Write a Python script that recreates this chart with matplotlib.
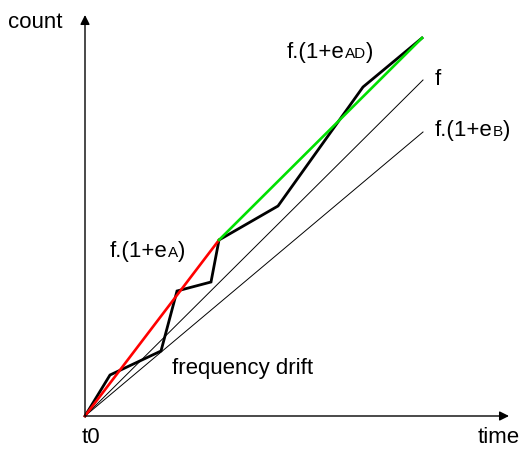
import matplotlib
matplotlib.use("Agg")
import matplotlib.pyplot as plt

# data in (time, count) units, origin at t0
measured_t = [0, 25, 76, 92, 126, 134, 193, 278, 337]
measured_c = [0, 41, 65, 125, 134, 176, 210, 329, 378]
fit_a_t = [0, 134]
fit_a_c = [0, 176]
fit_ad_t = [134, 337]
fit_ad_c = [176, 378]
f_t = [0, 338]
f_c = [0, 336]
fb_t = [0, 338]
fb_c = [0, 284]

plt.rcParams['font.family'] = ['Liberation Sans', 'DejaVu Sans']
fig = plt.figure(figsize=(5.21, 4.51), dpi=100)
ax = fig.add_axes([0, 0, 1, 1])
ax.set_xlim(-85, 436)
ax.set_ylim(-35, 416)
ax.axis('off')

# axes with arrows
ax.annotate('', xy=(424, 0), xytext=(0, 0),
            arrowprops=dict(arrowstyle='-|>', lw=1.0, color='black',
                            mutation_scale=14, shrinkA=0, shrinkB=0))
ax.annotate('', xy=(0, 401), xytext=(0, 0),
            arrowprops=dict(arrowstyle='-|>', lw=1.0, color='black',
                            mutation_scale=14, shrinkA=0, shrinkB=0))

ax.plot(f_t, f_c, color='black', lw=0.7)
ax.plot(fb_t, fb_c, color='black', lw=0.7)
ax.plot(measured_t, measured_c, color='black', lw=2.0, solid_joinstyle='miter')
ax.plot(fit_a_t, fit_a_c, color='#ff0000', lw=1.9)
ax.plot(fit_ad_t, fit_ad_c, color='#00e000', lw=1.9)

FS = 16
SUB = 11

fig.canvas.draw()
renderer = fig.canvas.get_renderer()

def label(x, y, main, sub=None):
    t1 = ax.text(x, y, main, fontsize=FS, va='baseline', ha='left')
    if sub is None:
        return
    bb = t1.get_window_extent(renderer=renderer)
    inv = ax.transData.inverted()
    x2 = inv.transform((bb.x1, 0))[0]
    t2 = ax.text(x2, y, sub, fontsize=SUB, va='baseline', ha='left')
    bb2 = t2.get_window_extent(renderer=renderer)
    x3 = inv.transform((bb2.x1, 0))[0]
    ax.text(x3, y, ')', fontsize=FS, va='baseline', ha='left')

label(202, 358, 'f.(1+e', 'AD')
label(350, 331, 'f')
label(350, 280, 'f.(1+e', 'B')
label(25, 159, 'f.(1+e', 'A')
ax.text(87, 42, 'frequency drift', fontsize=FS, va='baseline', ha='left')
ax.text(-3, -27, 't0', fontsize=FS, va='baseline', ha='left')
ax.text(393, -27, 'time', fontsize=FS, va='baseline', ha='left')
ax.text(-77, 388, 'count', fontsize=FS, va='baseline', ha='left')

fig.savefig('out.png', dpi=100)
